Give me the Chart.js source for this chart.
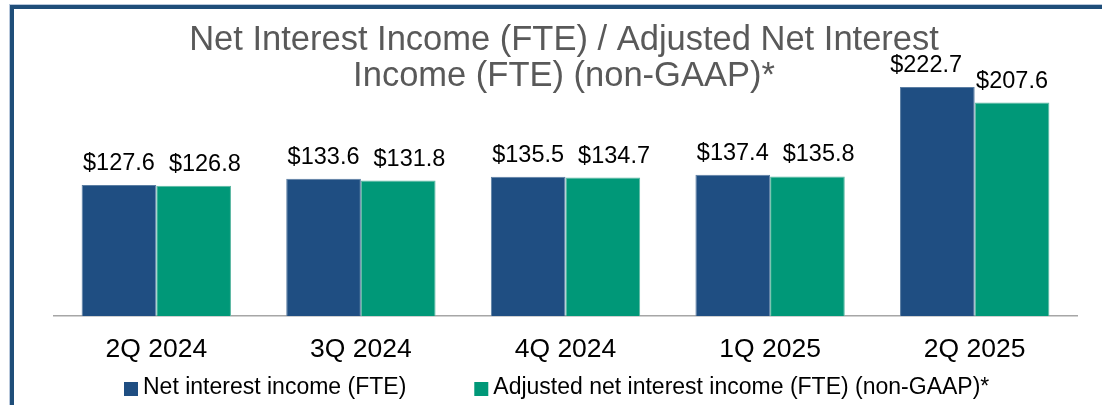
<!DOCTYPE html>
<html>
<head>
<meta charset="utf-8">
<script src="https://cdn.jsdelivr.net/npm/chart.js@4.4.1/dist/chart.umd.min.js"></script>
<style>
    html, body { margin: 0; padding: 0; background: #ffffff; }
    #wrap { position: relative; width: 1102px; height: 405px; overflow: hidden; }
    #frame {
        position: absolute; left: 10px; top: 5px; width: 1200px; height: 500px;
        border-left: 4px solid #1F4E79; border-top: 4px solid #1F4E79;
        box-shadow: -1px -1px 0 #b8c8dc;
        pointer-events: none;
    }
    canvas { position: absolute; left: 0; top: 0; }
</style>
</head>
<body>
<div id="wrap">
    <canvas id="niiChart" width="1102" height="405"></canvas>
    <div id="frame"></div>
</div>
<script>
const quarters = ["2Q 2024", "3Q 2024", "4Q 2024", "1Q 2025", "2Q 2025"];
const netInterestIncome = [127.6, 133.6, 135.5, 137.4, 222.7];
const adjustedNetInterestIncome = [126.8, 131.8, 134.7, 135.8, 207.6];
const seriesNames = ["Net interest income (FTE)", "Adjusted net interest income (FTE) (non-GAAP)*"];
const titleLines = ["Net Interest Income (FTE) / Adjusted Net Interest", "Income (FTE) (non-GAAP)*"];

const FONT = "'Liberation Sans', Arial, sans-serif";

// values over each bar; if the pair would touch, push them apart
const valueLabels = {
    id: "valueLabels",
    afterDatasetsDraw(chart) {
        const ctx = chart.ctx;
        const minGap = 14;
        ctx.save();
        ctx.font = "23.5px " + FONT;
        ctx.fillStyle = "#000000";
        ctx.textAlign = "center";
        ctx.textBaseline = "alphabetic";
        const blue = chart.getDatasetMeta(0).data;
        const green = chart.getDatasetMeta(1).data;
        quarters.forEach((q, j) => {
            const t1 = "$" + netInterestIncome[j].toFixed(1);
            const t2 = "$" + adjustedNetInterestIncome[j].toFixed(1);
            const w1 = ctx.measureText(t1).width, w2 = ctx.measureText(t2).width;
            let x1 = blue[j].x, x2 = green[j].x;
            const y1 = blue[j].y - 15, y2 = green[j].y - 15;
            const gap = (x2 - w2 / 2) - (x1 + w1 / 2);
            if (gap < minGap) {
                if (Math.abs(y1 - y2) < 8) x2 += minGap - gap;
                else x1 -= minGap - gap;
            }
            ctx.fillText(t1, x1, y1);
            ctx.fillText(t2, x2, y2);
        });
        ctx.restore();
    }
};

// two-line title, centred over the plot
const titleText = {
    id: "titleText",
    afterDraw(chart) {
        const ctx = chart.ctx;
        ctx.save();
        ctx.font = "34.5px " + FONT;
        ctx.fillStyle = "#595959";
        ctx.textAlign = "center";
        ctx.textBaseline = "middle";
        titleLines.forEach((line, i) => {
            ctx.fillText(line, 564, 40 + i * 36);
        });
        ctx.restore();
    }
};

// legend row under the axis: small square, short gap, then the name
const legendRow = {
    id: "legendRow",
    afterDraw(chart) {
        const ctx = chart.ctx;
        const box = 14, gapText = 5, gapItem = 68;
        ctx.save();
        ctx.font = "23px " + FONT;
        ctx.textBaseline = "middle";
        ctx.textAlign = "left";
        let x = 124;
        const y = 388;
        chart.data.datasets.forEach(ds => {
            ctx.fillStyle = ds.backgroundColor;
            ctx.fillRect(x, y - box / 2 + 1, box, box);
            ctx.fillStyle = "#000000";
            ctx.fillText(ds.label, x + box + gapText, y);
            x += box + gapText + ctx.measureText(ds.label).width + gapItem;
        });
        ctx.restore();
    }
};

const data = {
    labels: quarters,
    datasets: [{
        label: seriesNames[0],
        data: netInterestIncome,
        backgroundColor: "#1F4E82",
        borderColor: "#5b7ea3",
        borderWidth: 1
    }, {
        label: seriesNames[1],
        data: adjustedNetInterestIncome,
        backgroundColor: "#009878",
        borderColor: "#5cb8a2",
        borderWidth: 1
    }]
};

const config = {
    type: "bar",
    data: data,
    options: {
        responsive: false,
        animation: false,
        layout: { padding: { left: 54, right: 25, top: 59, bottom: 29 } },
        datasets: { bar: { categoryPercentage: 0.73, barPercentage: 1 } },
        plugins: {
            legend: { display: false },
            title: { display: false },
            tooltip: { enabled: false }
        },
        scales: {
            x: {
                grid: { display: false },
                border: { color: "#A6A6A6", width: 1.5 },
                ticks: {
                    font: { family: FONT, size: 26.5 },
                    color: "#000000",
                    padding: 10
                }
            },
            y: {
                display: false,
                min: 0,
                max: 250
            }
        }
    },
    plugins: [valueLabels, titleText, legendRow]
};

const ctxNii = document.getElementById("niiChart").getContext("2d");
new Chart(ctxNii, config);
</script>
</body>
</html>
